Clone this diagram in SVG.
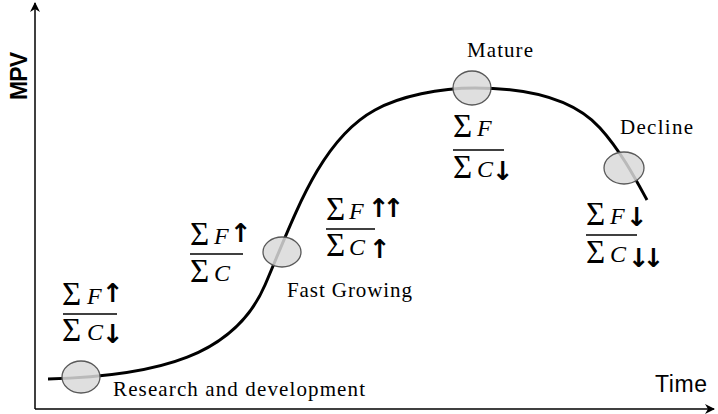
<svg xmlns="http://www.w3.org/2000/svg" width="718" height="414" viewBox="0 0 718 414">
<defs>
<marker id="ah" viewBox="0 0 10 10" refX="9" refY="5" markerWidth="10" markerHeight="10" markerUnits="userSpaceOnUse" orient="auto">
<path d="M0,0 L10,5 L0,10 L3,5 Z" fill="#000"/>
</marker>
</defs>
<style>
.axis{stroke:#000;stroke-width:1.5;fill:none}
.curve{stroke:#000;stroke-width:3;fill:none}
.dot{fill:#d9d9d9;fill-opacity:0.85;stroke:#595959;stroke-width:1.3}
.lbl{font-family:"Liberation Serif",serif;font-size:21px;fill:#000}
.sig{font-family:"Liberation Serif","DejaVu Serif",serif;font-size:33px;fill:#000}
.var{font-family:"Liberation Serif",serif;font-style:italic;font-size:24px;fill:#000}
.arr{font-family:"DejaVu Sans",sans-serif;font-weight:bold;font-size:26px;fill:#000}
.dbl{letter-spacing:-7px}
.bar{stroke:#000;stroke-width:1.6}
.ax{font-family:"Liberation Sans",sans-serif;font-size:23px;fill:#000}
</style>
<g id="axes">
<line class="axis" x1="35" y1="409" x2="35" y2="3" marker-end="url(#ah)"/>
<line class="axis" x1="35" y1="409" x2="714" y2="409" marker-end="url(#ah)"/>
<text class="ax" font-weight="bold" transform="translate(27,100) rotate(-90)" textLength="48">MPV</text>
<text class="ax" x="655" y="392" textLength="52">Time</text>
</g>
<g id="connectors">
<path class="curve" d="M48,379 C160,376 235,355 265,285 C295,215 320,140 375,110 C400,96 440,88 475,88 C520,88 570,95 600,128 C620,150 635,178 647,200"/>
</g>
<g id="research">
<ellipse class="dot" cx="81" cy="377" rx="19" ry="16"/>
<text class="lbl" x="113" y="396" textLength="252">Research and development</text>
<text class="sig" x="62" y="305">Σ</text><text class="var" x="87" y="304">F</text><text class="arr" x="102" y="302">↑</text>
<line class="bar" x1="63" y1="314" x2="117" y2="314"/>
<text class="sig" x="62" y="341">Σ</text><text class="var" x="87" y="340">C</text><text class="arr" x="102" y="343">↓</text>
</g>
<g id="fast">
<ellipse class="dot" cx="282" cy="252" rx="19" ry="15"/>
<text class="lbl" x="287" y="297" textLength="125">Fast Growing</text>
<text class="sig" x="190" y="245">Σ</text><text class="var" x="214" y="244">F</text><text class="arr" x="230" y="242">↑</text>
<line class="bar" x1="190" y1="254" x2="243" y2="254"/>
<text class="sig" x="190" y="282">Σ</text><text class="var" x="214" y="281">C</text>
<text class="sig" x="326" y="220">Σ</text><text class="var" x="349" y="219">F</text><text class="arr dbl" x="368" y="217">↑↑</text>
<line class="bar" x1="326" y1="229" x2="375" y2="229"/>
<text class="sig" x="326" y="256">Σ</text><text class="var" x="349" y="255">C</text><text class="arr" x="369" y="258">↑</text>
</g>
<g id="mature">
<ellipse class="dot" cx="472" cy="88" rx="19" ry="17"/>
<text class="lbl" x="467" y="57" textLength="66">Mature</text>
<text class="sig" x="453" y="137">Σ</text><text class="var" x="477" y="136">F</text>
<line class="bar" x1="453" y1="150" x2="504" y2="150"/>
<text class="sig" x="453" y="178">Σ</text><text class="var" x="477" y="177">C</text><text class="arr" x="492" y="180">↓</text>
</g>
<g id="decline">
<ellipse class="dot" cx="624" cy="168" rx="20" ry="16"/>
<text class="lbl" x="620" y="134" textLength="73">Decline</text>
<text class="sig" x="586" y="225">Σ</text><text class="var" x="610" y="224">F</text><text class="arr" x="626" y="226">↓</text>
<line class="bar" x1="586" y1="235" x2="637" y2="235"/>
<text class="sig" x="586" y="263">Σ</text><text class="var" x="610" y="262">C</text><text class="arr dbl" x="628" y="267">↓↓</text>
</g>
</svg>
